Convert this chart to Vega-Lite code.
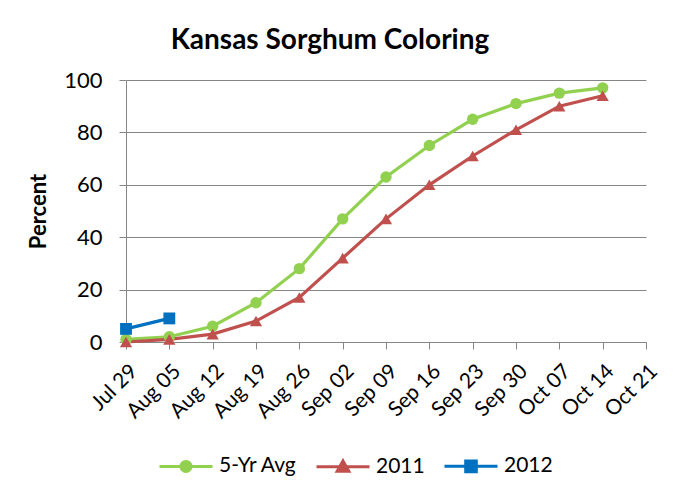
{
  "$schema": "https://vega.github.io/schema/vega-lite/v6.json",
  "width": 520,
  "height": 262,
  "autosize": {"type": "none"},
  "padding": {"left": 126, "top": 80, "right": 43, "bottom": 145},
  "background": "white",
  "config": {
    "font": "Lato",
    "view": {"stroke": null},
    "axis": {"labelFont": "Lato", "titleFont": "Lato", "labelColor": "black", "titleColor": "black"}
  },
  "title": {
    "text": "Kansas Sorghum Coloring",
    "fontSize": 28,
    "fontWeight": "bold",
    "font": "Lato",
    "color": "black",
    "anchor": "middle",
    "offset": 14,
    "dx": -56
  },
  "data": {
    "values": [
      {"date": "Jul 29", "series": "5-Yr Avg", "value": 1},
      {"date": "Aug 05", "series": "5-Yr Avg", "value": 2},
      {"date": "Aug 12", "series": "5-Yr Avg", "value": 6},
      {"date": "Aug 19", "series": "5-Yr Avg", "value": 15},
      {"date": "Aug 26", "series": "5-Yr Avg", "value": 28},
      {"date": "Sep 02", "series": "5-Yr Avg", "value": 47},
      {"date": "Sep 09", "series": "5-Yr Avg", "value": 63},
      {"date": "Sep 16", "series": "5-Yr Avg", "value": 75},
      {"date": "Sep 23", "series": "5-Yr Avg", "value": 85},
      {"date": "Sep 30", "series": "5-Yr Avg", "value": 91},
      {"date": "Oct 07", "series": "5-Yr Avg", "value": 95},
      {"date": "Oct 14", "series": "5-Yr Avg", "value": 97},
      {"date": "Jul 29", "series": "2011", "value": 0},
      {"date": "Aug 05", "series": "2011", "value": 1},
      {"date": "Aug 12", "series": "2011", "value": 3},
      {"date": "Aug 19", "series": "2011", "value": 8},
      {"date": "Aug 26", "series": "2011", "value": 17},
      {"date": "Sep 02", "series": "2011", "value": 32},
      {"date": "Sep 09", "series": "2011", "value": 47},
      {"date": "Sep 16", "series": "2011", "value": 60},
      {"date": "Sep 23", "series": "2011", "value": 71},
      {"date": "Sep 30", "series": "2011", "value": 81},
      {"date": "Oct 07", "series": "2011", "value": 90},
      {"date": "Oct 14", "series": "2011", "value": 94},
      {"date": "Jul 29", "series": "2012", "value": 5},
      {"date": "Aug 05", "series": "2012", "value": 9}
    ]
  },
  "encoding": {
    "x": {
      "field": "date",
      "type": "ordinal",
      "scale": {
        "type": "point",
        "padding": 0,
        "domain": ["Jul 29", "Aug 05", "Aug 12", "Aug 19", "Aug 26", "Sep 02", "Sep 09", "Sep 16", "Sep 23", "Sep 30", "Oct 07", "Oct 14", "Oct 21"]
      },
      "axis": {
        "title": null,
        "labelAngle": -45,
        "labelAlign": "right",
        "labelBaseline": "top",
        "labelFontSize": 21,
        "labelPadding": 11,
        "tickSize": 7,
        "tickColor": "#868686",
        "domainColor": "#868686",
        "grid": false
      }
    },
    "y": {
      "field": "value",
      "type": "quantitative",
      "scale": {"domain": [0, 100], "nice": false},
      "axis": {
        "title": "Percent",
        "titleFontSize": 22,
        "titleFontWeight": "bold",
        "titlePadding": 13,
        "values": [0, 20, 40, 60, 80, 100],
        "labelFontSize": 22,
        "labelPadding": 17,
        "tickSize": 7,
        "tickColor": "#868686",
        "domainColor": "#868686",
        "grid": true,
        "gridColor": "#868686",
        "gridOpacity": 1
      }
    },
    "color": {
      "field": "series",
      "type": "nominal",
      "scale": {"domain": ["5-Yr Avg", "2011", "2012"], "range": ["#92D050", "#C0504D", "#0070C0"]},
      "legend": {
        "title": null,
        "orient": "none",
        "direction": "horizontal",
        "legendX": 32,
        "legendY": 358,
        "labelFontSize": 21,
        "labelFont": "Lato",
        "labelColor": "black",
        "labelOffset": 5,
        "columnPadding": 13,
        "symbolSize": 2809,
        "symbolType": "M-1,0H1M-0.2,-0.2H0.2V0.2H-0.2Z",
        "encode": {
          "symbols": {
            "update": {
              "shape": {"signal": "datum.value === '5-Yr Avg' ? 'M-1,0H1M0.19,0A0.19,0.19,0,1,1,-0.19,0A0.19,0.19,0,1,1,0.19,0Z' : datum.value === '2011' ? 'M-1,0H1M0,-0.22L0.22,0.17L-0.22,0.17Z' : 'M-1,0H1M-0.2,-0.2H0.2V0.2H-0.2Z'"},
              "fill": {"scale": "color", "field": "value"},
              "stroke": {"scale": "color", "field": "value"},
              "strokeWidth": {"value": 3},
              "opacity": {"value": 1}
            }
          }
        }
      }
    }
  },
  "layer": [
    {
      "mark": {"type": "line", "strokeWidth": 3.2}
    },
    {
      "transform": [{"filter": "datum.series === '5-Yr Avg'"}],
      "mark": {"type": "point", "filled": true, "opacity": 1, "size": 130, "shape": "circle"}
    },
    {
      "transform": [{"filter": "datum.series === '2011'"}],
      "mark": {"type": "point", "filled": true, "opacity": 1, "size": 150, "shape": "triangle-up"}
    },
    {
      "transform": [{"filter": "datum.series === '2012'"}],
      "mark": {"type": "point", "filled": true, "opacity": 1, "size": 140, "shape": "square"}
    }
  ]
}
